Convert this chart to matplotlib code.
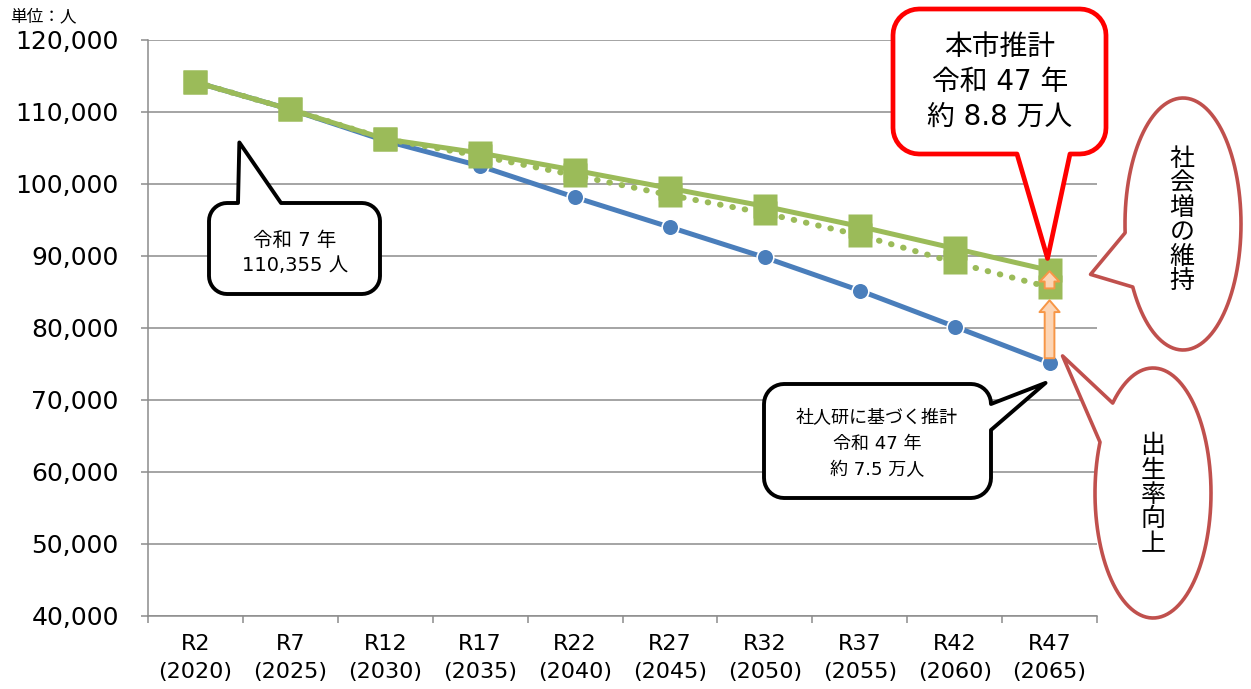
import numpy as np
import matplotlib

matplotlib.use("Agg")
import matplotlib.pyplot as plt
from matplotlib.path import Path
from matplotlib.patches import PathPatch
from matplotlib.transforms import Affine2D

plt.rcParams["font.family"] = ["DejaVu Sans", "Noto Sans CJK JP"]

# --- data (people) ---
periods = ["R2\n(2020)", "R7\n(2025)", "R12\n(2030)", "R17\n(2035)", "R22\n(2040)",
           "R27\n(2045)", "R32\n(2050)", "R37\n(2055)", "R42\n(2060)", "R47\n(2065)"]
ipss_projection = [114150, 110355, 106000, 102500, 98150, 94000, 89800, 85200, 80200, 75150]
city_projection = [114150, 110355, 106250, 104300, 101900, 99400, 96900, 94100, 91050, 88000]
social_increase = [114150, 110355, 106250, 103900, 101200, 98450, 95950, 92900, 89100, 85650]
y_ticks = list(range(40000, 120001, 10000))

BLUE = "#4a7ebb"
GREEN = "#9bbb59"
GRID = "#8c8c8c"
W, H = 1251, 689

fig = plt.figure(figsize=(W / 100, H / 100), dpi=100)
ax = fig.add_axes([148 / W, 1 - 616 / H, (1097 - 148) / W, (616 - 40) / H])

x = np.arange(len(periods))
ax.plot(x, ipss_projection, color=BLUE, lw=3.6, marker="o", ms=12,
        mfc=BLUE, mec="white", mew=1.2, zorder=3)
ax.plot(x, social_increase, color=GREEN, lw=4.3, ls=(0, (0.1, 2.0)),
        dash_capstyle="round", marker="s", ms=17, mec="none", zorder=4)
ax.plot(x, city_projection, color=GREEN, lw=3.6, marker="s", ms=17,
        mec="none", zorder=5)

ax.set_xlim(-0.5, len(periods) - 0.5)
ax.set_ylim(y_ticks[0], y_ticks[-1])
ax.set_yticks(y_ticks)
ax.set_yticklabels([f"{v:,}" for v in y_ticks])
ax.set_xticks(x)
ax.set_xticklabels(periods)
ax.set_xticks(np.arange(-0.5, len(periods)), minor=True)
ax.tick_params(axis="x", which="major", length=0, pad=13, labelsize=16)
ax.tick_params(axis="x", which="minor", length=5, color=GRID, width=1.1)
ax.tick_params(axis="y", length=5, color=GRID, width=1.1, pad=16, labelsize=18)
for lab in ax.get_xticklabels():
    lab.set_linespacing(1.5)
ax.grid(axis="y", color=GRID, lw=1.1)
ax.set_axisbelow(True)
for side in ("top", "right"):
    ax.spines[side].set_visible(False)
for side in ("left", "bottom"):
    ax.spines[side].set_color(GRID)
    ax.spines[side].set_linewidth(1.1)

fig.text(10 / W, 1 - 16 / H, "単位：人", fontsize=12, va="center", ha="left")

# orange "increase" arrows at R47
arrow_kw = dict(arrowstyle="simple,head_length=0.85,head_width=1.45,tail_width=0.7",
                fc="#fcd5b5", ec="#f79646", lw=1.4, mutation_scale=10,
                shrinkA=0, shrinkB=0)
last = len(periods) - 1
ax.annotate("", xy=(last, social_increase[-1] - 1800), xytext=(last, ipss_projection[-1] + 650),
            arrowprops=arrow_kw, zorder=7)
ax.annotate("", xy=(last, city_projection[-1] - 100), xytext=(last, social_increase[-1] - 150),
            arrowprops=dict(arrow_kw, arrowstyle="simple,head_length=0.75,head_width=1.4,tail_width=0.7"),
            zorder=7)

# --- callouts, laid out in pixel space (origin top-left) ---
px = Affine2D().scale(1 / W, -1 / H).translate(0, 1) + fig.transFigure


def data_px(i, v, dx=0, dy=0):
    dxp, dyp = ax.transData.transform((i, v))
    return (dxp + dx, H - dyp + dy)


def box_callout(x0, y0, x1, y1, r, side, a, b, tip, n=10):
    pts = []

    def arc(cx, cy, t0, t1):
        for t in np.radians(np.linspace(t0, t1, n)):
            pts.append((cx + r * np.cos(t), cy + r * np.sin(t)))

    arc(x0 + r, y0 + r, 180, 270)
    if side == "top":
        pts += [(a, y0), tip, (b, y0)]
    arc(x1 - r, y0 + r, 270, 360)
    if side == "right":
        pts += [(x1, a), tip, (x1, b)]
    arc(x1 - r, y1 - r, 0, 90)
    if side == "bottom":
        pts += [(b, y1), tip, (a, y1)]
    arc(x0 + r, y1 - r, 90, 180)
    pts.append(pts[0])
    return Path(pts, closed=True)


def ellipse_callout(cx, cy, a, b, t_start, t_end, tip, n=120):
    ts = np.linspace(0, 360, n)
    pts = [(cx + a * np.cos(np.radians(t)), cy + b * np.sin(np.radians(t))) for t in ts if t <= t_start]
    pts.append((cx + a * np.cos(np.radians(t_start)), cy + b * np.sin(np.radians(t_start))))
    pts.append(tip)
    pts.append((cx + a * np.cos(np.radians(t_end)), cy + b * np.sin(np.radians(t_end))))
    pts += [(cx + a * np.cos(np.radians(t)), cy + b * np.sin(np.radians(t))) for t in ts if t >= t_end]
    pts.append(pts[0])
    return Path(pts, closed=True)


def add_shape(path, ec, lw):
    fig.add_artist(PathPatch(path, transform=px, fc="white", ec=ec, lw=lw,
                             joinstyle="round", zorder=10))


def add_text(xp, yp, s, size, ls=1.25):
    fig.text(xp / W, 1 - yp / H, s, fontsize=size, ha="center", va="center",
             linespacing=ls, zorder=11)


# 令和7年
add_shape(box_callout(209, 203, 380, 294, 18, "top", 238, 281, data_px(1, ipss_projection[1], -51, 33)),
          "black", 2.8)
add_text(295, 253, "令和 7 年\n110,355 人", 14, 1.45)

# 社人研
add_shape(box_callout(764, 384, 991, 498, 20, "right", 404, 430, data_px(last, ipss_projection[-1], -4, 20)),
          "black", 2.8)
add_text(877, 444, "社人研に基づく推計\n令和 47 年\n約 7.5 万人", 13, 1.55)

# 本市推計
add_shape(box_callout(893, 9, 1106, 154, 26, "bottom", 1017, 1070, data_px(last, city_projection[-1], -2, -12)),
          "#ff0000", 3.4)
add_text(1000, 82, "本市推計\n令和 47 年\n約 8.8 万人", 20, 1.3)

# 社会増の維持
add_shape(ellipse_callout(1183, 224, 58, 126, 150, 176, data_px(last, city_projection[-1], 41, 4)),
          "#c0504d", 2.6)
add_text(1182, 220, "\n".join("社会増の維持"), 18, 1.02)

# 出生率向上
add_shape(ellipse_callout(1153, 493, 58, 125, 204, 226, data_px(last, ipss_projection[-1], 13, -7)),
          "#c0504d", 2.6)
add_text(1153, 495, "\n".join("出生率向上"), 18, 1.02)

fig.savefig("out.png", dpi=100)
